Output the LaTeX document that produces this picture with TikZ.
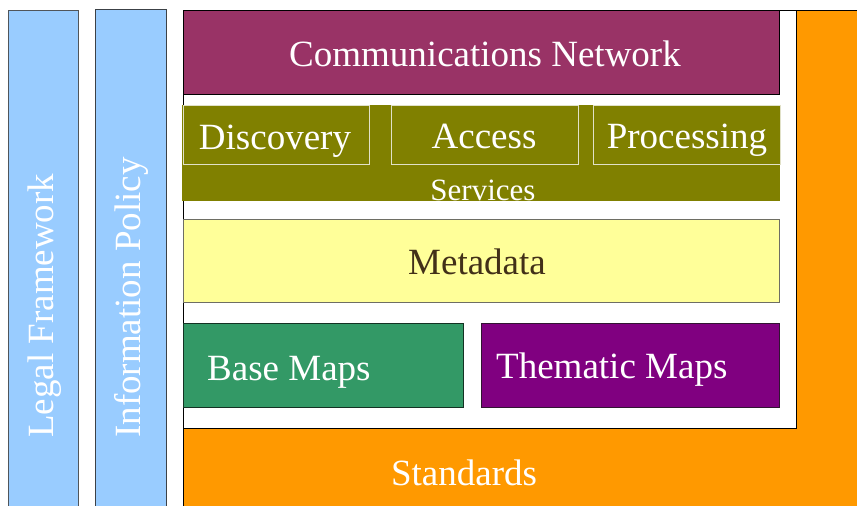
\documentclass[tikz,border=0pt]{standalone}
\usepackage{fontspec}
\setmainfont{Liberation Serif}
\definecolor{barblue}{HTML}{99CCFF}
\definecolor{stdorange}{HTML}{FF9900}
\definecolor{commred}{HTML}{993366}
\definecolor{servolive}{HTML}{808000}
\definecolor{metayellow}{HTML}{FFFF99}
\definecolor{basegreen}{HTML}{339966}
\definecolor{thempurple}{HTML}{800080}
\definecolor{metatext}{RGB}{66,48,24}
\definecolor{subline}{RGB}{225,225,200}
\tikzset{
  panel/.style={rectangle, inner sep=0pt, outer sep=0pt, line width=1pt},
  bigtext/.style={inner sep=0pt, font=\fontsize{37}{40}\selectfont, text=white},
  smalltext/.style={inner sep=0pt, font=\fontsize{31}{34}\selectfont, text=white},
}
\begin{document}
\begin{tikzpicture}[x=1pt,y=-1pt]
\useasboundingbox (0,0) rectangle (857,506);
% side bars
\node[panel, draw={rgb,255:red,80;green,85;blue,90}, fill=barblue, minimum width=70pt, minimum height=498pt] (legal) at (43,259) {};
\node[panel, draw={rgb,255:red,60;green,65;blue,70}, fill=barblue, minimum width=71pt, minimum height=499pt] (info) at (130.5,258.5) {};
% standards (orange L)
\node[panel, draw=black, fill=stdorange, minimum width=676pt, minimum height=498pt] (std) at (521,259) {};
\node[panel, draw=black, fill=white, minimum width=613pt, minimum height=418pt] (inner) at (489.5,219) {};
% communications network
\node[panel, draw=black, fill=commred, minimum width=596pt, minimum height=84pt] (comm) at (481,52) {};
% services
\node[panel, draw=none, fill=servolive, minimum width=598pt, minimum height=95.5pt] (serv) at (481,152.75) {};
\node[panel, draw=subline, fill=servolive, minimum width=186pt, minimum height=59pt] (disc) at (276,134.5) {};
\node[panel, draw=subline, fill=servolive, minimum width=187pt, minimum height=59pt] (acc) at (484.5,134.5) {};
\node[panel, draw=subline, fill=servolive, minimum width=187pt, minimum height=59pt] (proc) at (686.5,134.5) {};
% metadata
\node[panel, draw={rgb,255:red,110;green,110;blue,100}, fill=metayellow, minimum width=596pt, minimum height=83pt] (meta) at (481,260.5) {};
% maps
\node[panel, draw={rgb,255:red,20;green,50;blue,35}, fill=basegreen, minimum width=280pt, minimum height=84pt] (base) at (323,365) {};
\node[panel, draw={rgb,255:red,50;green,20;blue,50}, fill=thempurple, minimum width=298pt, minimum height=84pt] (them) at (630,365) {};
% labels
\node[bigtext, anchor=base] (commlbl) at (485,66) {Communications Network};
\node[bigtext, anchor=base] (disclbl) at (275,149) {Discovery};
\node[bigtext, anchor=base] (acclbl) at (484,148) {Access};
\node[bigtext, anchor=base] (proclbl) at (687,148) {Processing};
\begin{scope}
  \clip (serv.south west) rectangle (serv.north east);
  \node[smalltext, anchor=base] (servlbl) at (483,200) {Services};
\end{scope}
\node[bigtext, anchor=base, text=metatext] (metalbl) at (477,274) {Metadata};
\node[bigtext, anchor=base west] (baselbl) at (207,380) {Base Maps};
\node[bigtext, anchor=base west] (themlbl) at (496,378) {Thematic Maps};
\node[bigtext, anchor=base] (stdlbl) at (464,485) {Standards};
\node[bigtext, anchor=base west, rotate=90] (legallbl) at (53,438) {Legal Framework};
\node[bigtext, anchor=base west, rotate=90] (infolbl) at (140,438) {Information Policy};
\end{tikzpicture}
\end{document}
